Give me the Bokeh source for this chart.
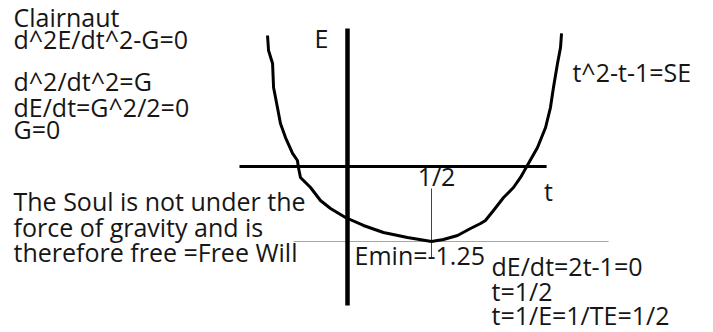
from bokeh.plotting import figure
from bokeh.models import Range1d, ColumnDataSource
from bokeh.core.properties import value
from bokeh.embed import file_html
from bokeh.resources import INLINE

# Hand-drawn parabola SE = t^2 - t - 1, sampled along the sketch (t, E)
t_curve = [-0.476, -0.470, -0.446, -0.440, -0.417, -0.399, -0.369, -0.327, -0.298,
           -0.292, -0.280, -0.220, -0.161, -0.101, -0.012, 0.095, 0.214, 0.357,
           0.500, 0.571, 0.655, 0.732, 0.792, 0.821, 0.869, 0.929, 0.988, 1.030,
           1.077, 1.131, 1.179, 1.208, 1.226, 1.250, 1.268, 1.274]
e_curve = [2.183, 1.933, 1.717, 1.317, 0.983, 0.717, 0.483, 0.217, 0.100,
           -0.017, -0.183, -0.350, -0.567, -0.700, -0.850, -0.983, -1.100, -1.183,
           -1.250, -1.217, -1.150, -1.033, -0.950, -0.900, -0.733, -0.517, -0.350, -0.183,
           0.050, 0.317, 0.650, 0.983, 1.317, 1.717, 1.983, 2.217]

# Key values
t_min = 0.5
e_min = -1.25

# Axis extents
t_axis = [-0.643, 1.185]
e_axis = [2.30, -2.317]
emin_line_t = [-0.321, 1.554]
tick_line_e = [-0.367, -1.533]

FONT = "Open Sans"
FS = "25px"
INK = "#161616"

p = figure(width=713, height=332, output_backend="svg", toolbar_location=None,
           x_range=Range1d(-347 / 168, (713 - 347) / 168),
           y_range=Range1d((166 - 332) / 60, 166 / 60),
           min_border=0, background_fill_color="white",
           border_fill_color="white", outline_line_color=None)
p.axis.visible = False
p.grid.visible = False

# Emin level line and t = 1/2 marker
p.line(emin_line_t, [e_min, e_min], line_color="#a6a6a6", line_width=1.2)
p.line([t_min, t_min], tick_line_e, line_color="#444444", line_width=1)

# Axes drawn by hand
p.line([0, 0], e_axis, line_color="black", line_width=4.5)
p.line(t_axis, [0, 0], line_color="black", line_width=3)

# The curve
p.line(t_curve, e_curve, line_color="black", line_width=3, line_join="round")

# Left-aligned notes
labels = [
    ("Clairnaut", -1.988, 2.500),
    ("d^2E/dt^2-G=0", -1.988, 2.117),
    ("d^2/dt^2=G", -1.988, 1.433),
    ("dE/dt=G^2/2=0", -1.988, 1.000),
    ("G=0", -1.988, 0.617),
    ("The Soul is not under the", -1.988, -0.567),
    ("force of gravity and is", -1.988, -1.000),
    ("therefore free =Free Will", -1.988, -1.433),
    ("t^2-t-1=SE", 1.339, 1.583),
    ("Emin=-1.25", 0.042, -1.467),
    ("dE/dt=2t-1=0", 0.857, -1.650),
    ("t=1/2", 0.857, -2.083),
    ("t=1/E=1/TE=1/2", 0.857, -2.483),
]
src = ColumnDataSource(dict(text=[l[0] for l in labels],
                            x=[l[1] for l in labels],
                            y=[l[2] for l in labels]))
p.text(x="x", y="y", text="text", source=src, text_font=value(FONT),
       text_font_size=FS, text_baseline="middle", text_align="left",
       text_color=INK)

# Centered axis names and the 1/2 tick label
centered = [("E", -0.155, 2.150), ("t", 1.196, -0.400), ("1/2", 0.530, -0.150)]
csrc = ColumnDataSource(dict(text=[c[0] for c in centered],
                             x=[c[1] for c in centered],
                             y=[c[2] for c in centered]))
p.text(x="x", y="y", text="text", source=csrc, text_font=value(FONT),
       text_font_size=FS, text_baseline="middle", text_align="center",
       text_color=INK)

open("out.html", "w").write(file_html(p, INLINE))
